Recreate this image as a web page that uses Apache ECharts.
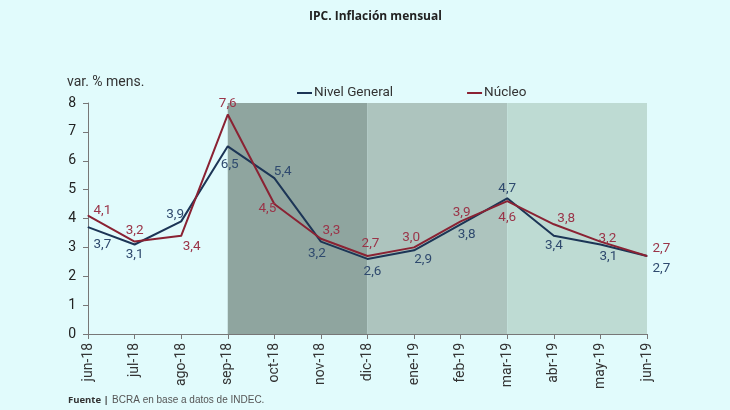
<!DOCTYPE html>
<html><head><meta charset="utf-8">
<script src="https://cdn.jsdelivr.net/npm/echarts@6/dist/echarts.min.js"></script>
<style>html,body{margin:0;padding:0;background:#e1fbfc;}#c{width:730px;height:410px;}</style>
</head><body><div id="c"></div>
<script>
const categories = ['jun-18','jul-18','ago-18','sep-18','oct-18','nov-18','dic-18','ene-19','feb-19','mar-19','abr-19','may-19','jun-19'];
const nivelGeneral = [3.7, 3.1, 3.9, 6.5, 5.4, 3.2, 2.6, 2.9, 3.8, 4.7, 3.4, 3.1, 2.7];
const nucleo = [4.1, 3.2, 3.4, 7.6, 4.5, 3.3, 2.7, 3.0, 3.9, 4.6, 3.8, 3.2, 2.7];
// label placement per point
const nivelPos = ['right','bottom','top','bottom','right','bottom','bottom','bottom','bottom','top','bottom','bottom','right'];
const nucleoPos = ['right','top','right','top','inside','right','top','top','top','bottom','right','top','right'];
const nivelOff = [[0,17],[0,-2],[-6,6],[2,6],[-6,-6],[-4,0],[5,0],[9,-3],[6,-2],[0,3],[0,-3],[8,0],[0,13]];
const nucleoOff = [[0,-5],[0,2],[-4,11],[0,2],[-7,5],[-4,-8],[3,0],[-3,3],[1,4],[0,4],[-2,-6],[7,10],[0,-7]];

const font = 'Roboto, "Liberation Sans", sans-serif';
function mk(vals, pos, off) {
  return vals.map((v,i)=>({value:v,label:{position:pos[i],offset:off[i]}}));
}
const fmt = p => p.value.toFixed(1).replace('.', ',');
const chart = echarts.init(document.getElementById('c'));
chart.setOption({
  backgroundColor:'#e1fbfc',
  animation:false,
  title:{text:'IPC. Inflación mensual',left:304,top:6,textStyle:{fontFamily:'"Open Sans", sans-serif',fontSize:12,fontWeight:'bold',color:'#222'}},
  graphic:[
    {type:'text',left:67,top:75,style:{text:'var. % mens.',font:'14px '+font,fill:'#333'}},
    {type:'text',left:68,top:394,style:{rich:{b:{fontFamily:'"Open Sans", sans-serif',fontWeight:'bold',fontSize:9.5,fill:'#333'},n:{fontFamily:'"Liberation Sans Narrow","Liberation Sans",sans-serif',fontSize:10,fill:'#555'}},text:'{b|Fuente |} {n|BCRA en base a datos de INDEC.}'}}
  ],
  legend:{top:81,left:292,itemGap:74,itemWidth:15,itemHeight:2,icon:'rect',textStyle:{fontFamily:font,fontSize:13.5,color:'#333',padding:[0,0,0,-3]},data:['Nivel General','Núcleo']},
  grid:{left:88,right:83,top:103,bottom:76},
  xAxis:{type:'category',data:categories,boundaryGap:false,
    axisLine:{lineStyle:{color:'#777'}},axisTick:{alignWithLabel:true,lineStyle:{color:'#777'},length:5},
    axisLabel:{rotate:90,fontFamily:font,fontSize:14,color:'#333',margin:9,interval:0}},
  yAxis:{type:'value',min:0,max:8,interval:1,splitLine:{show:false},
    axisLine:{show:true,lineStyle:{color:'#777'}},axisTick:{show:true,lineStyle:{color:'#777'},length:5},
    axisLabel:{fontFamily:font,fontSize:14,color:'#222',margin:12}},
  series:[
    {name:'Nivel General',type:'line',data:mk(nivelGeneral,nivelPos,nivelOff),symbol:'circle',symbolSize:1,showSymbol:true,
      lineStyle:{color:'#1c3556',width:2},itemStyle:{color:'#1c3556'},
      label:{show:true,fontFamily:font,fontSize:13.5,color:'#2f4a6e',formatter:fmt},
      markArea:{silent:true,data:[
        [{xAxis:'sep-18',yAxis:0,itemStyle:{color:'#8fa59f'}},{xAxis:'dic-18',yAxis:8}],
        [{xAxis:'dic-18',yAxis:0,itemStyle:{color:'#adc4be'}},{xAxis:'mar-19',yAxis:8}],
        [{xAxis:'mar-19',yAxis:0,itemStyle:{color:'#bedbd3'}},{xAxis:'jun-19',yAxis:8}]
      ]},z:3},
    {name:'Núcleo',type:'line',data:mk(nucleo,nucleoPos,nucleoOff),symbol:'circle',symbolSize:1,showSymbol:true,
      lineStyle:{color:'#8a2233',width:2},itemStyle:{color:'#8a2233'},
      label:{show:true,fontFamily:font,fontSize:13.5,color:'#9a3448',formatter:fmt},z:4}
  ]
});
</script></body></html>
